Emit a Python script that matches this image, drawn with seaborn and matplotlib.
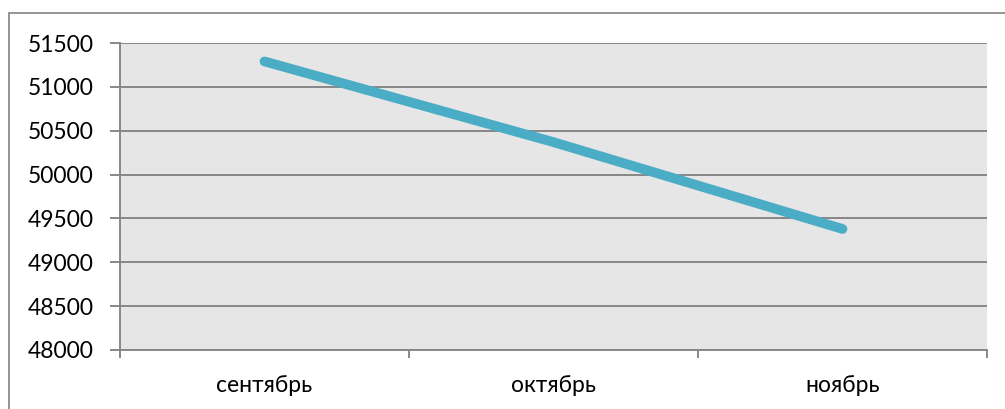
import matplotlib
matplotlib.use("Agg")
import matplotlib.pyplot as plt
import seaborn as sns
import pandas as pd
from matplotlib.patches import Rectangle

months = ["сентябрь", "октябрь", "ноябрь"]
values = [51290, 50370, 49380]
y_ticks = [48000, 48500, 49000, 49500, 50000, 50500, 51000, 51500]

sns.set_theme(style="white")
plt.rcParams["font.family"] = ["Lato", "DejaVu Sans"]

W, H = 1005, 409
fig = plt.figure(figsize=(W / 100, H / 100), dpi=100)

# outer chart frame (top and left edges visible)
fig.patches.append(Rectangle((9 / W, -0.1), 1.2, 1 - 13 / H + 0.1,
                             transform=fig.transFigure, fill=False,
                             edgecolor="#8c8c8c", linewidth=1.3, zorder=0))

ax = fig.add_axes([120 / W, 1 - 350 / H, (987 - 120) / W, (350 - 43) / H])
ax.set_facecolor("#e6e6e6")

df = pd.DataFrame({"month": months, "value": values})
sns.lineplot(data=df, x="month", y="value", ax=ax, color="#4bacc6",
             linewidth=7, solid_capstyle="round", sort=False, zorder=3)

ax.set_xlim(-0.5, len(months) - 0.5)
ax.set_ylim(y_ticks[0], y_ticks[-1])
ax.set_yticks(y_ticks)
ax.set_yticklabels([str(v) for v in y_ticks])
ax.set_xlabel("")
ax.set_ylabel("")

grid_c = "#878787"
ax.yaxis.grid(True, color=grid_c, linewidth=1.4)
ax.xaxis.grid(False)
ax.set_axisbelow(True)

for side in ["top", "right"]:
    ax.spines[side].set_visible(False)
for side in ["left", "bottom"]:
    ax.spines[side].set_color(grid_c)
    ax.spines[side].set_linewidth(1.4)

ax.tick_params(axis="y", which="major", left=True, length=7, width=1.4,
               color=grid_c, labelsize=16.5, labelcolor="#000000", pad=12)
ax.set_xticks(range(len(months)))
ax.set_xticklabels(months)
ax.set_xticks([i - 0.5 for i in range(len(months) + 1)], minor=True)
ax.tick_params(axis="x", which="major", bottom=False, length=0,
               labelsize=16.5, labelcolor="#000000", pad=18)
ax.tick_params(axis="x", which="minor", bottom=True, length=6, width=1.4,
               color=grid_c)

fig.savefig("out.png", dpi=100)
